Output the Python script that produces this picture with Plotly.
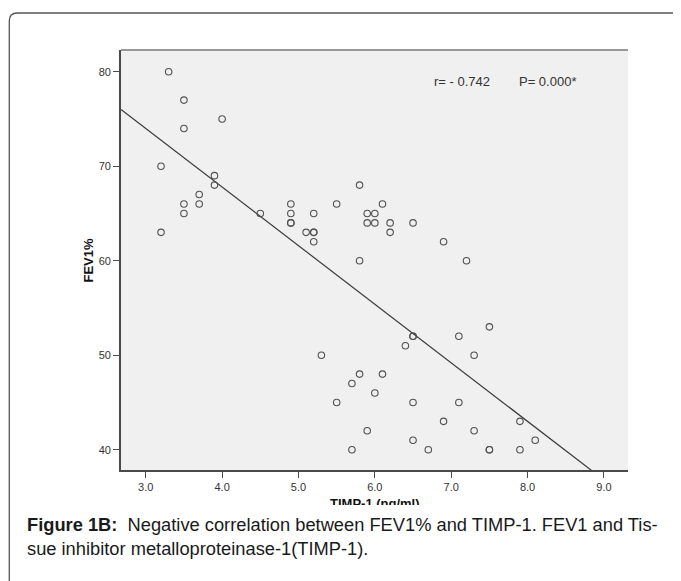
import numpy as np
import plotly.graph_objects as go

# ---- data ----
timp1 = [3.3, 3.5, 3.5, 4.0, 3.2, 3.9, 3.9, 3.7, 3.7, 3.5,
         3.5, 4.5, 4.9, 4.9, 4.9, 4.9, 5.2, 3.2, 5.1, 5.2,
         5.2, 5.8, 5.5, 6.1, 5.9, 6.0, 5.9, 6.0, 6.2, 6.5,
         6.2, 6.9, 5.2, 5.8, 7.2, 7.5, 6.5, 6.5, 7.1, 6.4,
         7.3, 5.3, 5.8, 6.1, 5.7, 6.0, 5.5, 6.5, 7.1, 6.9,
         7.9, 5.9, 7.3, 8.1, 6.5, 5.7, 6.7, 7.5, 7.5, 7.9]
fev1 = [80, 77, 74, 75, 70, 69, 68, 67, 66, 66,
        65, 65, 66, 65, 64, 64, 65, 63, 63, 63,
        63, 68, 66, 66, 65, 65, 64, 64, 64, 64,
        63, 62, 62, 60, 60, 53, 52, 52, 52, 51,
        50, 50, 48, 48, 47, 46, 45, 45, 45, 43,
        43, 42, 42, 41, 41, 40, 40, 40, 40, 40]
x_ticks = [3.0, 4.0, 5.0, 6.0, 7.0, 8.0, 9.0]
x_tick_labels = ["3.0", "4.0", "5.0", "6.0", "7.0", "8.0", "9.0"]
y_ticks = [40, 50, 60, 70, 80]
y_tick_labels = ["40", "50", "60", "70", "80"]
x_title = "TIMP-1 (ng/ml)"
y_title = "FEV1%"
stat_r = "r= - 0.742"
stat_p = "P= 0.000*"
caption = ("<b>Figure 1B:</b>&nbsp;&nbsp;Negative correlation between FEV1% and TIMP-1. FEV1 and Tis-"
           "<br>sue inhibitor metalloproteinase-1(TIMP-1).")

# ---- layout geometry (page pixels; the page body has an 8px margin) ----
OFF = 8
W, H = 681 - OFF, 581 - OFF
ML, MR, MT, MB = 121 - OFF, 53, 50 - OFF, 111
PW, PH = W - ML - MR, H - MT - MB
X_RANGE = [2.676, 9.315]
Y_RANGE = [37.85, 82.3]


def pxx(px):
    return (px - OFF - ML) / PW


def pxy(py):
    return (H - MB - (py - OFF)) / PH


FONT = "Liberation Sans, Arial, sans-serif"

slope, intercept = np.polyfit(timp1, fev1, 1)
fit_x = np.array(X_RANGE)
fit_y = intercept + slope * fit_x

fig = go.Figure()
fig.add_trace(go.Scatter(
    x=fit_x, y=fit_y, mode="lines",
    line=dict(color="#3a3a3a", width=1.2),
    hoverinfo="skip", showlegend=False,
))
fig.add_trace(go.Scatter(
    x=timp1, y=fev1, mode="markers",
    marker=dict(symbol="circle-open", size=6.5, color="#505050",
                line=dict(width=1.1, color="#505050")),
    showlegend=False,
))

axis_common = dict(
    showgrid=False, zeroline=False, showline=True, linecolor="#4a4a4a",
    linewidth=1.6, ticks="outside", ticklen=6, tickwidth=1, tickcolor="#4a4a4a",
    tickfont=dict(family=FONT, size=11, color="#333333"),
)
fig.update_xaxes(range=X_RANGE, tickvals=x_ticks, ticktext=x_tick_labels, **axis_common)
fig.update_yaxes(range=Y_RANGE, tickvals=y_ticks, ticktext=y_tick_labels, **axis_common)

# outer rounded frame and top border of plot
xl, yt, r = pxx(9.3), pxy(13), 8
frame_path = (f"M {xl},{pxy(620)} L {xl},{pxy(13 + r)} "
              f"Q {xl},{yt} {pxx(9.3 + r)},{yt} L {pxx(700)},{yt}")
shapes = [
    dict(type="path", xref="paper", yref="paper", path=frame_path,
         line=dict(color="#555555", width=1.3)),
    dict(type="line", xref="paper", yref="paper", x0=0, x1=1, y0=1, y1=1,
         line=dict(color="#7a7a7a", width=1.5)),
]

annotations = [
    dict(text=stat_r, xref="paper", yref="paper", x=pxx(432), y=pxy(82),
         xanchor="left", yanchor="middle", showarrow=False,
         font=dict(family=FONT, size=13, color="#333333")),
    dict(text=stat_p, xref="paper", yref="paper", x=pxx(517), y=pxy(82),
         xanchor="left", yanchor="middle", showarrow=False,
         font=dict(family=FONT, size=13, color="#333333")),
    dict(text=f"<b>{y_title}</b>", xref="paper", yref="paper", x=pxx(88), y=pxy(260.5),
         xanchor="center", yanchor="middle", textangle=-90, showarrow=False,
         font=dict(family=FONT, size=13, color="#111111")),
    dict(text=f"<b>{x_title}</b>", xref="paper", yref="paper", x=pxx(374.5), y=pxy(494),
         xanchor="center", yanchor="top", showarrow=False,
         font=dict(family=FONT, size=13, color="#111111")),
    # white band that clips the bottom of the axis title (as in the reference)
    dict(text=" ", xref="paper", yref="paper", x=pxx(11), y=pxy(504.5),
         xanchor="left", yanchor="top", showarrow=False, width=668, height=80,
         bgcolor="white", borderpad=0, borderwidth=0,
         font=dict(family=FONT, size=10)),
    dict(text=caption, xref="paper", yref="paper", x=pxx(25), y=pxy(512),
         xanchor="left", yanchor="top", align="left", showarrow=False,
         font=dict(family=FONT, size=18.3, color="#1a1a1a")),
]

fig.update_layout(
    width=W, height=H,
    margin=dict(l=ML, r=MR, t=MT, b=MB, pad=0),
    paper_bgcolor="white", plot_bgcolor="#f0f0f0",
    shapes=shapes, annotations=annotations,
    font=dict(family=FONT),
)
fig.write_html("out.html")
